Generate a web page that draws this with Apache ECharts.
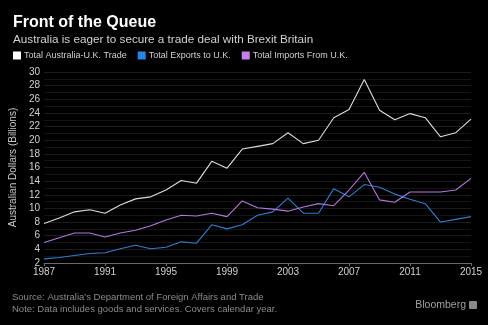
<!DOCTYPE html>
<html><head><meta charset="utf-8">
<script src="https://cdn.jsdelivr.net/npm/echarts@6/dist/echarts.min.js"></script>
<style>html,body{margin:0;padding:0;background:#000;}#c{width:488px;height:325px;}</style>
</head><body><div id="c"></div>
<script>
var years = ['1987','1988','1989','1990','1991','1992','1993','1994','1995','1996','1997','1998','1999','2000','2001','2002','2003','2004','2005','2006','2007','2008','2009','2010','2011','2012','2013','2014','2015'];
var totalTrade = [7.8,8.6,9.5,9.8,9.3,10.5,11.4,11.7,12.7,14.1,13.7,16.9,15.9,18.7,19.1,19.5,21.1,19.5,20.0,23.3,24.5,28.9,24.4,23.0,23.9,23.3,20.5,21.1,23.1];
var exportsUK = [2.6,2.8,3.1,3.4,3.5,4.1,4.6,4.1,4.3,5.1,4.9,7.6,7.0,7.6,9.0,9.5,11.5,9.3,9.3,12.9,11.7,13.5,13.1,12.1,11.35,10.7,8.0,8.4,8.8];
var importsUK = [5.0,5.7,6.4,6.4,5.8,6.4,6.8,7.45,8.3,9.0,8.9,9.3,8.8,11.1,10.1,9.9,9.6,10.2,10.7,10.4,12.7,15.3,11.25,10.9,12.4,12.4,12.4,12.7,14.4];
var seriesNames = ['Total Australia-U.K. Trade','Total Exports to U.K.','Total Imports From U.K.'];
var colors = ['#dcdcdc','#2a7fd4','#b874e0'];
var legendColors = ['#ffffff','#2586e8','#c47ff0'];

var chart = echarts.init(document.getElementById('c'), null, {renderer:'canvas'});
var font = 'Liberation Sans';
chart.setOption({
  backgroundColor:'#000',
  animation:false,
  textStyle:{fontFamily:font},
  title:[
    {text:'Front of the Queue', left:8, top:10, textStyle:{color:'#fff', fontSize:16, fontWeight:'bold', fontFamily:font}},
    {text:'Australia is eager to secure a trade deal with Brexit Britain', left:8, top:29, textStyle:{color:'#d0d0d0', fontSize:11.7, fontWeight:'normal', fontFamily:font}}
  ],
  legend:{
    left:8, top:46, itemWidth:8, itemHeight:8, itemGap:11, icon:'rect',
    textStyle:{color:'#d0d0d0', fontSize:9, fontFamily:font, padding:[0,0,0,-2]},
    data:seriesNames.map(function(n,i){return {name:n, itemStyle:{color:legendColors[i]}};})
  },
  grid:{left:31, right:17, top:72, bottom:62},
  xAxis:{
    type:'category', data:years, boundaryGap:false,
    axisLine:{lineStyle:{color:'#6a6a6a'}},
    axisTick:{interval:3, length:3, lineStyle:{color:'#6a6a6a'}},
    axisLabel:{interval:3, color:'#d0d0d0', fontSize:10, margin:4},
    splitLine:{show:false}
  },
  yAxis:{
    type:'value', min:2, max:30, interval:2,
    name:'Australian Dollars (Billions)', nameLocation:'middle', nameGap:17, nameRotate:90,
    nameTextStyle:{color:'#c8c8c8', fontSize:10},
    axisLine:{show:false}, axisTick:{show:false},
    axisLabel:{color:'#d0d0d0', fontSize:10, margin:4},
    splitLine:{lineStyle:{color:'#1c1c1c'}},
    minorTick:{show:false, splitNumber:2},
    minorSplitLine:{show:true, lineStyle:{color:'#141414'}}
  },
  series:[
    {name:seriesNames[0], type:'line', data:totalTrade, symbol:'none', lineStyle:{color:colors[0], width:1.1}, itemStyle:{color:legendColors[0]}},
    {name:seriesNames[1], type:'line', data:exportsUK, symbol:'none', lineStyle:{color:colors[1], width:1.1}, itemStyle:{color:legendColors[1]}},
    {name:seriesNames[2], type:'line', data:importsUK, symbol:'none', lineStyle:{color:colors[2], width:1.1}, itemStyle:{color:legendColors[2]}}
  ],
  graphic:[
    {type:'text', left:12, top:291, style:{text:"Source: Australia's Department of Foreign Affairs and Trade\nNote: Data includes goods and services. Covers calendar year.", fill:'#8a8a8a', font:'9.5px '+font, lineHeight:12}},
    {type:'text', right:22, top:300, style:{text:'Bloomberg', fill:'#a0a0a0', font:'10.5px '+font}},
    {type:'rect', right:11, top:301, shape:{width:8, height:8, r:1}, style:{fill:'#8a8a8a'}}
  ]
});
</script></body></html>
